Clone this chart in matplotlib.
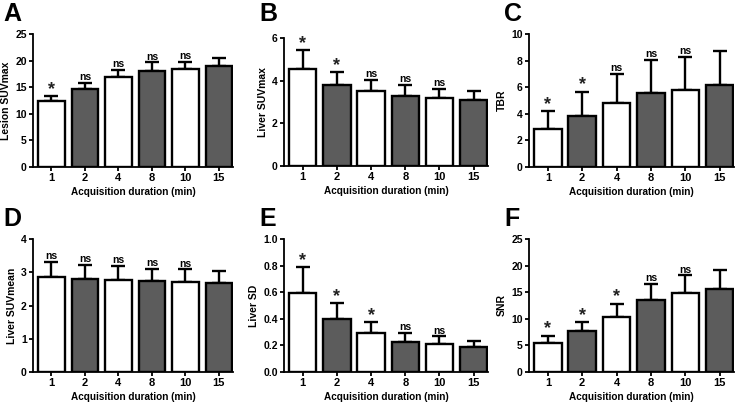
import matplotlib
matplotlib.use('Agg')
import matplotlib.pyplot as plt
import numpy as np

plt.rcParams['font.family'] = ['Liberation Sans', 'DejaVu Sans']
plt.rcParams['font.weight'] = 'bold'

durations = ['1', '2', '4', '8', '10', '15']

lesion_suvmax = [12.5, 14.6, 16.95, 18.1, 18.4, 19.0]
lesion_suvmax_err = [0.9, 1.2, 1.35, 1.55, 1.4, 1.5]
lesion_suvmax_sig = ['*', 'ns', 'ns', 'ns', 'ns', '']

liver_suvmax = [4.56, 3.79, 3.52, 3.29, 3.2, 3.08]
liver_suvmax_err = [0.86, 0.62, 0.51, 0.51, 0.42, 0.42]
liver_suvmax_sig = ['*', '*', 'ns', 'ns', 'ns', '']

tbr = [2.85, 3.87, 4.84, 5.54, 5.79, 6.17]
tbr_err = [1.33, 1.8, 2.14, 2.5, 2.47, 2.52]
tbr_sig = ['*', '*', 'ns', 'ns', 'ns', '']

liver_suvmean = [2.87, 2.79, 2.77, 2.73, 2.71, 2.68]
liver_suvmean_err = [0.45, 0.43, 0.43, 0.38, 0.38, 0.37]
liver_suvmean_sig = ['ns', 'ns', 'ns', 'ns', 'ns', '']

liver_sd = [0.594, 0.40, 0.295, 0.229, 0.212, 0.186]
liver_sd_err = [0.192, 0.116, 0.08, 0.063, 0.055, 0.048]
liver_sd_sig = ['*', '*', '*', 'ns', 'ns', '']

snr = [5.42, 7.62, 10.39, 13.54, 14.8, 15.65]
snr_err = [1.44, 1.83, 2.46, 3.02, 3.34, 3.55]
snr_sig = ['*', '*', '*', 'ns', 'ns', '']

panels = [
    ('A', 'Lesion SUVmax', lesion_suvmax, lesion_suvmax_err, lesion_suvmax_sig, 25, 5, '%d'),
    ('B', 'Liver SUVmax', liver_suvmax, liver_suvmax_err, liver_suvmax_sig, 6, 2, '%d'),
    ('C', 'TBR', tbr, tbr_err, tbr_sig, 10, 2, '%d'),
    ('D', 'Liver SUVmean', liver_suvmean, liver_suvmean_err, liver_suvmean_sig, 4, 1, '%d'),
    ('E', 'Liver SD', liver_sd, liver_sd_err, liver_sd_sig, 1.0, 0.2, '%.1f'),
    ('F', 'SNR', snr, snr_err, snr_sig, 25, 5, '%d'),
]

# axes boxes in pixels: left, right, top, bottom
W, H = 742, 409
boxes = [
    (33, 233, 34, 167), (284, 488, 38, 166), (529, 734, 34, 167),
    (33, 233, 239, 372), (284, 488, 239, 372), (529, 734, 239, 372),
]
letter_pos = [(3, 2), (259, 2), (504, 2), (3, 207), (259, 207), (504, 207)]

fig = plt.figure(figsize=(W / 100, H / 100), dpi=100)
colors = ['white', '#5c5c5c'] * 3
x = np.arange(len(durations))

for (letter, ylab, vals, errs, sig, ymax, step, fmt), (l, r, t, b), (lx, ly) in zip(panels, boxes, letter_pos):
    ax = fig.add_axes([l / W, 1 - b / H, (r - l) / W, (b - t) / H])
    ax.bar(x, vals, width=0.8, color=colors, edgecolor='black', linewidth=1.7, zorder=2)
    ax.errorbar(x, vals, yerr=[np.zeros(len(vals)), errs], fmt='none', ecolor='black',
                elinewidth=1.7, capsize=4.7, capthick=1.7, zorder=1)
    for xi, v, e, s in zip(x, vals, errs, sig):
        if s == '*':
            ax.annotate(s, (xi, v + e), xytext=(0, 1.5), textcoords='offset points',
                        ha='center', va='baseline', fontsize=13, fontweight='bold', color='#222222')
        elif s:
            ax.annotate(s, (xi, v + e), xytext=(0, 0.5), textcoords='offset points',
                        ha='center', va='bottom', fontsize=7.5, fontweight='bold')
    ax.set_xlim(-0.55, 5.42)
    ax.set_ylim(0, ymax)
    ticks = np.arange(0, ymax + step / 2, step)
    ax.set_yticks(ticks)
    ax.set_yticklabels([fmt % t for t in ticks])
    ax.set_xticks(x)
    ax.set_xticklabels(durations)
    for sp in ['top', 'right']:
        ax.spines[sp].set_visible(False)
    for sp in ['left', 'bottom']:
        ax.spines[sp].set_linewidth(1.3)
    ax.tick_params(width=1.3, length=3, labelsize=7.5, pad=1.5)
    ax.tick_params(axis='x', labelsize=8)
    ax.set_ylabel(ylab, fontsize=7.5, fontweight='bold', labelpad=3)
    ax.set_xlabel('Acquisition duration (min)', fontsize=7.2, fontweight='bold', labelpad=3)
    fig.text(lx / W, 1 - ly / H, letter, fontsize=18, fontweight='bold', ha='left', va='top')

plt.savefig('out.png', dpi=100)
